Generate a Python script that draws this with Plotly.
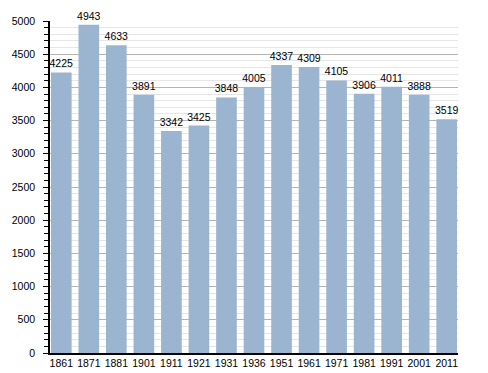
import plotly.graph_objects as go

years = ["1861", "1871", "1881", "1901", "1911", "1921", "1931", "1936", "1951", "1961", "1971", "1981", "1991", "2001", "2011"]
population = [4225, 4943, 4633, 3891, 3342, 3425, 3848, 4005, 4337, 4309, 4105, 3906, 4011, 3888, 3519]

fig = go.Figure(go.Bar(
    x=years, y=population,
    marker=dict(color="#9bb4cf", line=dict(width=0)),
    text=[str(v) for v in population], textposition="outside",
    constraintext="none",
    textfont=dict(family="Liberation Sans, Arial", size=10.5, color="black"),
    cliponaxis=False,
))
# page body has an 8px default margin, so the figure is 8px smaller and margins shifted
fig.update_layout(
    width=480, height=365,
    margin=dict(l=42, r=30, t=13, b=20),
    paper_bgcolor="white", plot_bgcolor="white",
    bargap=0.25,
    showlegend=False,
    font=dict(family="Liberation Sans, Arial", size=10.5, color="black"),
    xaxis=dict(range=[-0.41, 14.41], showline=True, linecolor="black", linewidth=1.5, ticks="",
               tickfont=dict(size=10.5), automargin=False),
    yaxis=dict(range=[0, 5000], dtick=500, showline=True, linecolor="black", linewidth=1.5,
               ticks="outside", ticklen=5, tickcolor="black", ticklabelstandoff=6, automargin=False,
               showgrid=True, gridcolor="#b4b4b4", gridwidth=1, zeroline=False,
               minor=dict(dtick=100, ticks="outside", ticklen=4, tickcolor="black",
                          showgrid=True, gridcolor="#e6e6e6", gridwidth=1)),
)
fig.write_html("out.html")
